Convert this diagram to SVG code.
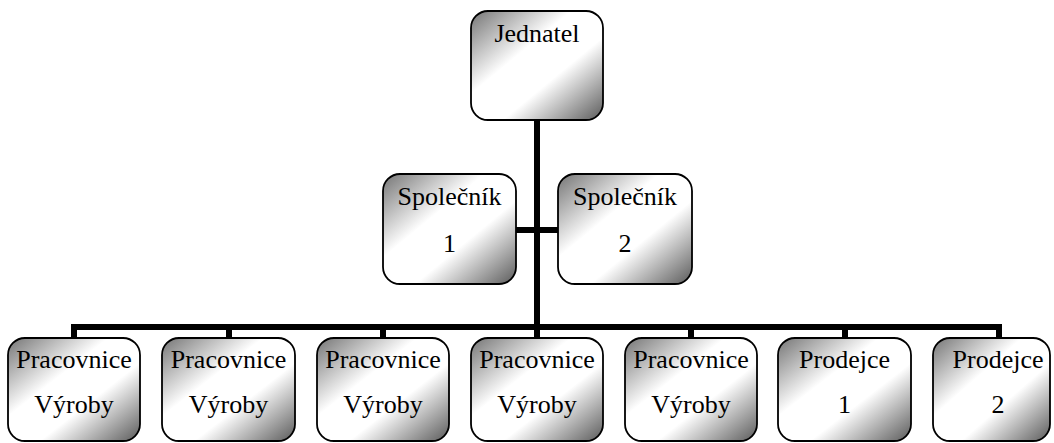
<svg xmlns="http://www.w3.org/2000/svg" width="1054" height="443" viewBox="0 0 1054 443">
<style>
.box{stroke:#000;stroke-width:1.8;fill:url(#g)}
.t{font-family:'Liberation Serif', 'Times New Roman', Times, serif;font-size:26px;fill:#000;text-anchor:middle}
.c{stroke:#000;stroke-width:6;fill:none;stroke-linecap:butt}
</style>
<defs>
<linearGradient id="g" x1="0" y1="0" x2="1" y2="1">
<stop offset="0" stop-color="#747474"/>
<stop offset="0.38" stop-color="#ffffff"/>
<stop offset="0.62" stop-color="#ffffff"/>
<stop offset="1" stop-color="#5a5a5a"/>
</linearGradient>
</defs>
<g id="connectors">
<path class="c" d="M537 120 V327"/>
<path class="c" d="M516 230 H558"/>
<path class="c" d="M74 338 V327 H999 V338"/>
<path class="c" d="M229 327 V338 M383 327 V338 M691 327 V338 M845 327 V338 M537 327 V338"/>
</g>
<g id="jednatel"><rect class="box" x="471" y="11" width="132" height="109" rx="17"/><text class="t" x="537" y="42">Jednatel</text></g>
<g id="spolecnik1"><rect class="box" x="383" y="174" width="133" height="110" rx="17"/><text class="t" x="449.5" y="205">Společník</text><text class="t" x="449.5" y="252">1</text></g>
<g id="spolecnik2"><rect class="box" x="558" y="174" width="134" height="110" rx="17"/><text class="t" x="625" y="205">Společník</text><text class="t" x="625" y="252">2</text></g>
<g id="prac1"><rect class="box" x="8" y="338" width="132" height="103" rx="17"/><text class="t" x="74" y="368">Pracovnice</text><text class="t" x="74" y="413">Výroby</text></g>
<g id="prac2"><rect class="box" x="162" y="338" width="133" height="103" rx="17"/><text class="t" x="228.5" y="368">Pracovnice</text><text class="t" x="228.5" y="413">Výroby</text></g>
<g id="prac3"><rect class="box" x="317" y="338" width="132" height="103" rx="17"/><text class="t" x="383" y="368">Pracovnice</text><text class="t" x="383" y="413">Výroby</text></g>
<g id="prac4"><rect class="box" x="471" y="338" width="132" height="103" rx="17"/><text class="t" x="537" y="368">Pracovnice</text><text class="t" x="537" y="413">Výroby</text></g>
<g id="prac5"><rect class="box" x="625" y="338" width="132" height="103" rx="17"/><text class="t" x="691" y="368">Pracovnice</text><text class="t" x="691" y="413">Výroby</text></g>
<g id="prodejce1"><rect class="box" x="778" y="338" width="133" height="103" rx="17"/><text class="t" x="844.5" y="368">Prodejce</text><text class="t" x="844.5" y="413">1</text></g>
<g id="prodejce2"><rect class="box" x="933" y="338" width="117" height="103" rx="17"/><text class="t" x="998" y="368">Prodejce</text><text class="t" x="998" y="413">2</text></g>
</svg>
